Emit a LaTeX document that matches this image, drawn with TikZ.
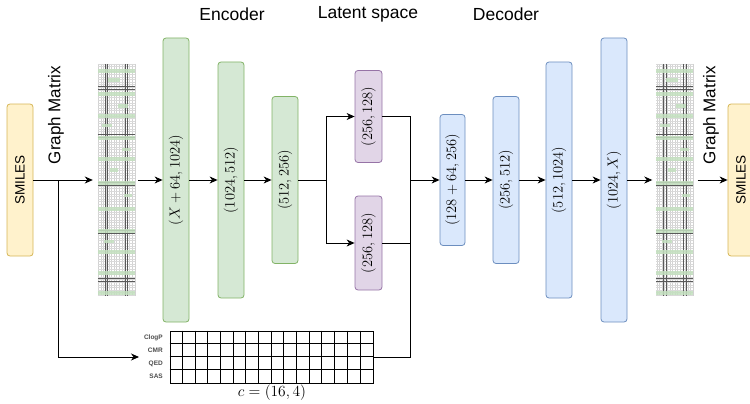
\RequirePackage{fix-cm}
\documentclass[tikz,border=0pt]{standalone}
\usepackage{fontspec}
\setsansfont{Liberation Sans}
\usetikzlibrary{arrows.meta}
\definecolor{gfill}{HTML}{D5E8D4}\definecolor{gline}{HTML}{82B366}
\definecolor{pfill}{HTML}{E1D5E7}\definecolor{pline}{HTML}{9673A6}
\definecolor{bfill}{HTML}{DAE8FC}\definecolor{bline}{HTML}{6C8EBF}
\definecolor{yfill}{HTML}{FFF2CC}\definecolor{yline}{HTML}{D6B656}
\definecolor{mgreen}{HTML}{C3E0BF}
\newcommand{\drawgm}[1]{%
\begin{scope}[shift={(#1.north west)}]
 \fill[white] (0,0) rectangle (37,232);
 \foreach \i in {0,...,14} \draw[gray!35, line width=0.3pt] (\i*2.6+0.5,0) -- ++(0,232);
 \foreach \j in {0,...,89} \draw[gray!30, line width=0.3pt] (0,\j*2.6) -- ++(37,0);
 \foreach \x in {7,9.6,27,29.6} \draw[gray!70!black, line width=0.45pt] (\x,0) -- ++(0,232);
 \foreach \y in {22,25,70,73,118,121,166,169,214,217} \draw[gray!70!black, line width=0.45pt] (0,\y) -- ++(37,0);
 \begin{scope}[fill opacity=0.85]
 \foreach \y in {9,32,54,76,97,121,147,169,190,211,231} \fill[mgreen] (0,\y-3.5) rectangle (37,\y);
 \fill[mgreen] (10,14) rectangle (22,18);
 \fill[mgreen] (20,40) rectangle (30,44);
 \fill[mgreen] (4,60) rectangle (14,63);
 \fill[mgreen] (24,84) rectangle (33,87);
 \fill[mgreen] (12,104) rectangle (20,108);
 \fill[mgreen] (26,130) rectangle (34,133);
 \fill[mgreen] (6,176) rectangle (16,179);
 \end{scope}
\end{scope}}
\begin{document}
\begin{tikzpicture}[x=1pt,y=-1pt,
 box/.style={draw, rounded corners=3pt, inner sep=0pt, line width=0.8pt, minimum width=26pt},
 enc/.style={box, fill=gfill, draw=gline},
 lat/.style={box, fill=pfill, draw=pline, minimum width=27pt},
 dec/.style={box, fill=bfill, draw=bline},
 smiles/.style={box, fill=yfill, draw=yline, minimum height=152pt, font=\sffamily\fontsize{13.5}{14}\selectfont},
 gmat/.style={inner sep=0pt, minimum width=37pt, minimum height=232pt},
 conn/.style={line width=0.9pt},
 arr/.style={conn, -{Stealth[length=8pt,width=7pt,inset=2.5pt]}},
 title/.style={font=\sffamily\fontsize{17.5}{18}\selectfont},
 gmlab/.style={rotate=90, font=\sffamily\fontsize{17}{17}\selectfont},
 rowlab/.style={anchor=east, inner sep=0pt, text=gray!60!black, font=\sffamily\bfseries\fontsize{6.5}{7}\selectfont},
 mlab/.style={font=\fontsize{14.5}{15}\selectfont}]
\useasboundingbox (0,0) rectangle (750,404);
% titles
\node[title] (tenc) at (232,14) {Encoder};
\node[title] (tlat) at (368,14) {Latent space};
\node[title] (tdec) at (506,14) {Decoder};
% inputs/outputs
\node[smiles] (sl) at (20,180) {\rotatebox{90}{SMILES}};
\node[smiles] (sr) at (741,180) {\rotatebox{90}{SMILES}};
\node[gmlab] (gml) at (56,115) {Graph Matrix};
\node[gmlab] (gmr) at (711,115) {Graph Matrix};
\node[gmat] (m1) at (116.5,180) {};
\node[gmat] (m2) at (675,180) {};
\drawgm{m1}
\drawgm{m2}
% encoder
\node[enc, minimum height=284pt, mlab] (e1) at (176,180) {\rotatebox{90}{$(X+64,1024)$}};
\node[enc, minimum height=236pt, mlab] (e2) at (231,180) {\rotatebox{90}{$(1024,512)$}};
\node[enc, minimum height=167pt, mlab] (e3) at (285,180) {\rotatebox{90}{$(512,256)$}};
% latent
\node[lat, minimum height=92pt, mlab] (p1) at (368.5,116.5) {\rotatebox{90}{$(256,128)$}};
\node[lat, minimum height=94pt, mlab] (p2) at (368.5,243) {\rotatebox{90}{$(256,128)$}};
% decoder
\node[dec, minimum width=25pt, minimum height=131pt, mlab] (d1) at (452.5,180) {\rotatebox{90}{$(128+64,256)$}};
\node[dec, minimum height=167pt, mlab] (d2) at (506,180) {\rotatebox{90}{$(256,512)$}};
\node[dec, minimum height=236pt, mlab] (d3) at (559,180) {\rotatebox{90}{$(512,1024)$}};
\node[dec, minimum height=284pt, mlab] (d4) at (614,180) {\rotatebox{90}{$(1024,X)$}};
% condition grid
\node[draw, line width=0.8pt, inner sep=0pt, minimum width=203pt, minimum height=52pt] (cg) at (271.5,357) {};
\foreach \i in {1,...,15} \draw[line width=0.8pt] ([xshift=\i*12.6875pt]cg.north west) -- ([xshift=\i*12.6875pt]cg.south west);
\foreach \j in {1,2,3} \draw[line width=0.8pt] ([yshift=-\j*13pt]cg.north west) -- ([yshift=-\j*13pt]cg.north east);
\node[rowlab] (r1) at (163,337.5) {ClogP};
\node[rowlab] (r2) at (163,350.5) {CMR};
\node[rowlab] (r3) at (163,363.5) {QED};
\node[rowlab] (r4) at (163,376.5) {SAS};
\node[font=\fontsize{15.5}{16}\selectfont] (clab) at (272,393) {$c=(16,4)$};
% connectors
\coordinate (br) at (58,180);
\coordinate (cin) at (139,357);
\coordinate (sp) at (326,180);
\coordinate (jn) at (410,180);
\draw[arr, shorten >=5pt] (sl.east) -- (m1.west);
\draw[arr] (br) |- (cin);
\draw[arr, shorten <=3pt] (m1.east) -- (e1.west);
\draw[arr] (e1.east) -- (e2.west);
\draw[arr] (e2.east) -- (e3.west);
\draw[conn] (e3.east) -- (sp);
\draw[arr] (sp) |- (p1.west);
\draw[arr] (sp) |- (p2.west);
\draw[conn] (p1.east) -| (jn);
\draw[conn] (p2.east) -| (jn);
\draw[conn] (cg.east) -| (jn);
\draw[arr] (jn) -- (d1.west);
\draw[arr] (d1.east) -- (d2.west);
\draw[arr] (d2.east) -- (d3.west);
\draw[arr] (d3.east) -- (d4.west);
\draw[arr, shorten >=4pt] (d4.east) -- (m2.west);
\draw[arr, shorten <=4pt] (m2.east) -- (sr.west);
\end{tikzpicture}
\end{document}
